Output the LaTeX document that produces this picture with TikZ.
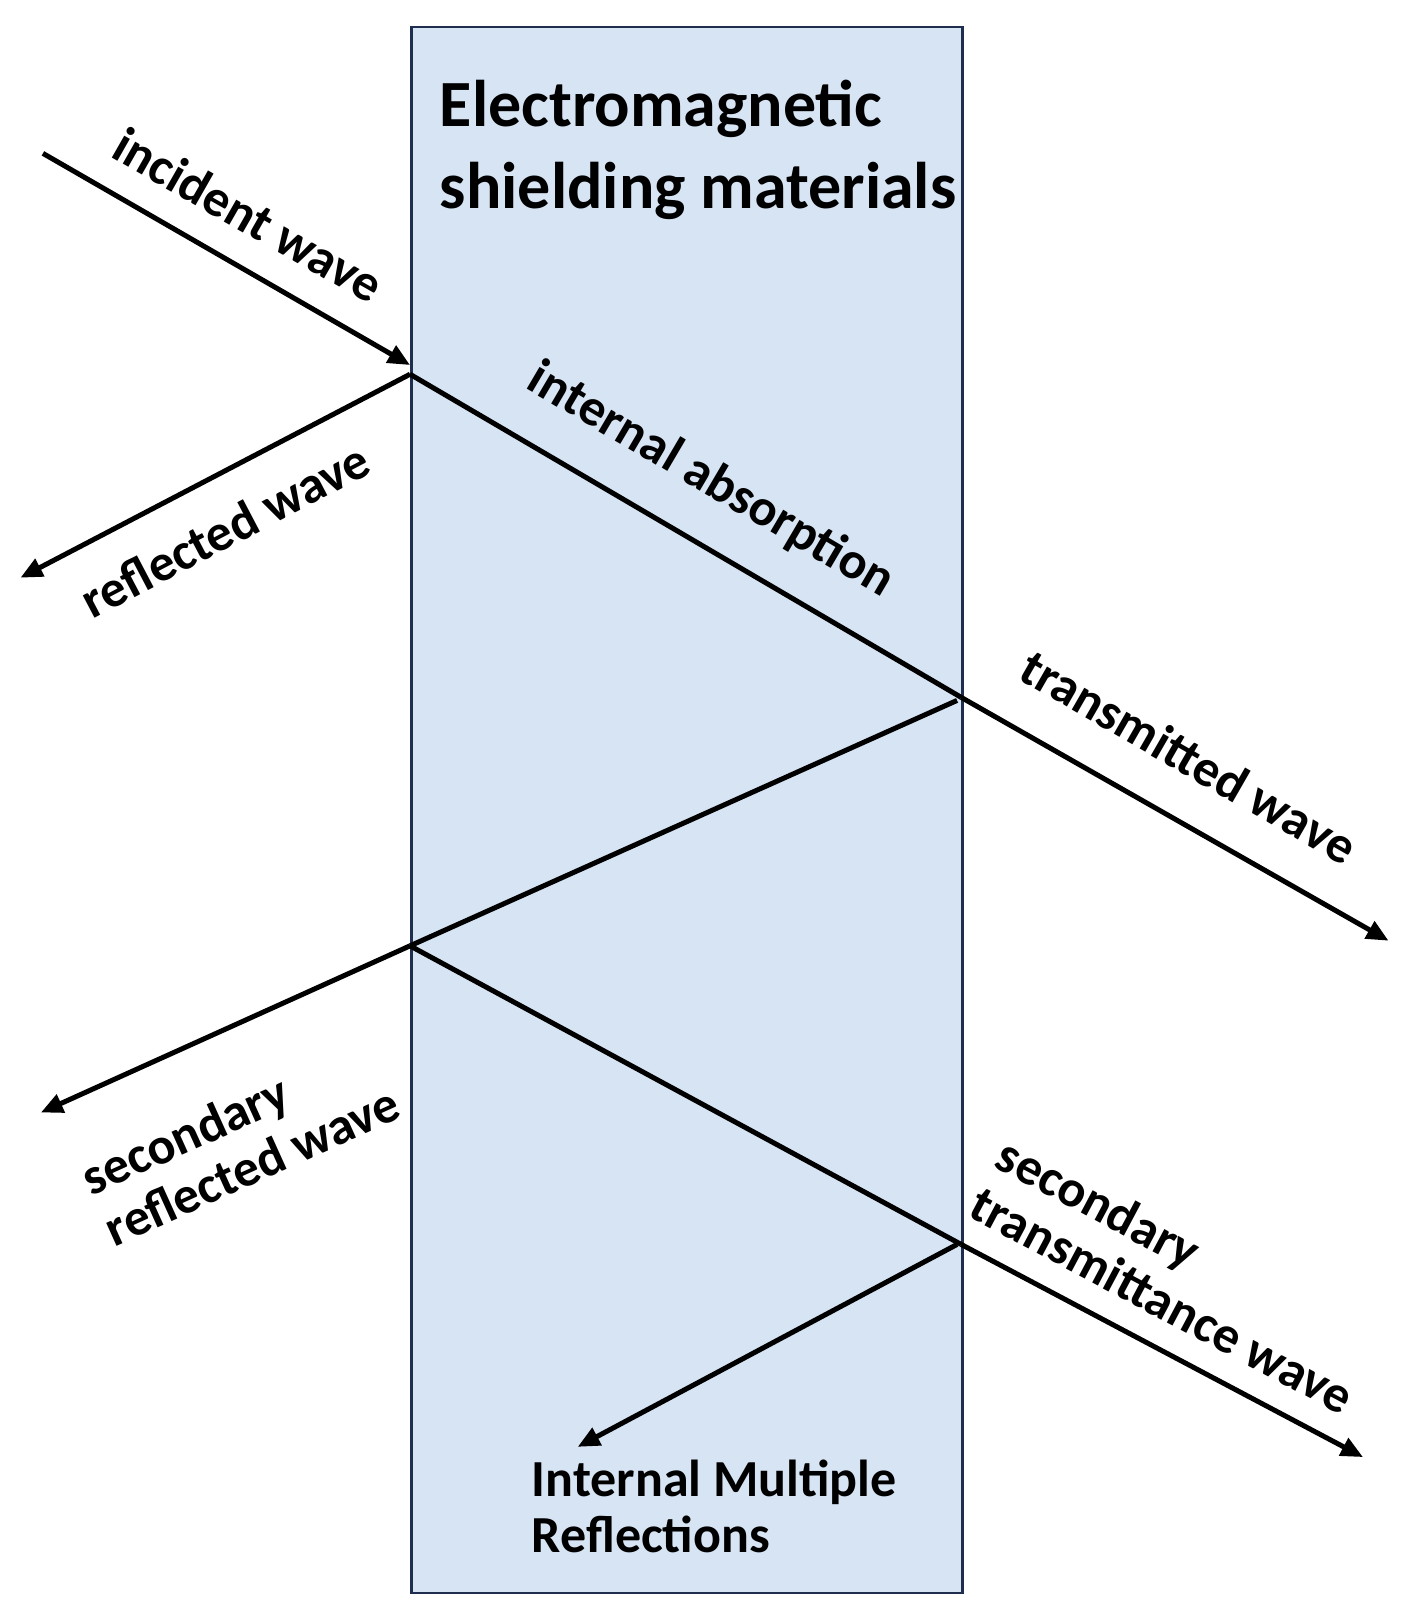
\documentclass[tikz,border=0pt]{standalone}
\usepackage{fontspec}
\setmainfont{Carlito}
\usetikzlibrary{arrows.meta}
\definecolor{boxfill}{HTML}{D7E4F3}
\definecolor{boxline}{HTML}{1F2D4F}
\begin{document}
\begin{tikzpicture}[x=1.0225pt,y=-1.0225pt,
  ray/.style={line width=5pt,black},
  arr/.style={ray,-{Triangle[length=22pt,width=19pt]}},
  lab/.style={font=\fontsize{52}{56}\selectfont\bfseries,inner sep=0pt,align=center},
  ttl/.style={font=\fontsize{66}{82}\selectfont\bfseries,inner sep=0pt,align=left,anchor=north west}]
\useasboundingbox (0pt,0pt) rectangle (1406pt,-1606pt);
\node[draw=boxline,fill=boxfill,line width=2.5pt,minimum width=551pt,minimum height=1566pt,anchor=north west,inner sep=0pt] (box) at (401,25) {};
\node[ttl] (title) at (430,78) {Electromagnetic\\shielding materials};
\coordinate (s0) at (42,150);
\coordinate (p1) at (401,357);
\coordinate (p1r) at (401,366);
\coordinate (r1) at (20,565);
\coordinate (p2) at (940,682);
\coordinate (p2b) at (936,685);
\coordinate (t1) at (1358,920);
\coordinate (p3) at (401,925);
\coordinate (r2) at (40,1088);
\coordinate (p4) at (940,1217);
\coordinate (p4b) at (936,1217);
\coordinate (t2) at (1333,1425);
\coordinate (m1) at (565,1415);
\draw[arr] (s0) -- (p1);
\draw[arr] (p1r) -- (r1);
\draw[ray] (p1r) -- (p2);
\draw[arr] (p2) -- (t1);
\draw[ray] (p2b) -- (p3);
\draw[arr] (p3) -- (r2);
\draw[ray] (p3) -- (p4);
\draw[arr] (p4) -- (t2);
\draw[arr] (p4b) -- (m1);
\node[lab,rotate=-29.7] (l1) at (243,210) {incident wave};
\node[lab,rotate=27.7] (l2) at (220,518) {reflected wave};
\node[lab,rotate=-30.5] (l3) at (695,470) {internal absorption};
\node[lab,rotate=-29.9] (l4) at (1163,740) {transmitted wave};
\node[lab,rotate=24.3,align=left] (l5) at (235,1115) {secondary\\reflected wave};
\node[lab,rotate=-28,align=left] (l6) at (1150,1247) {secondary\\transmittance wave};
\node[lab,align=left,anchor=north west] (l7) at (520,1428) {Internal Multiple\\Reflections};
\end{tikzpicture}
\end{document}
